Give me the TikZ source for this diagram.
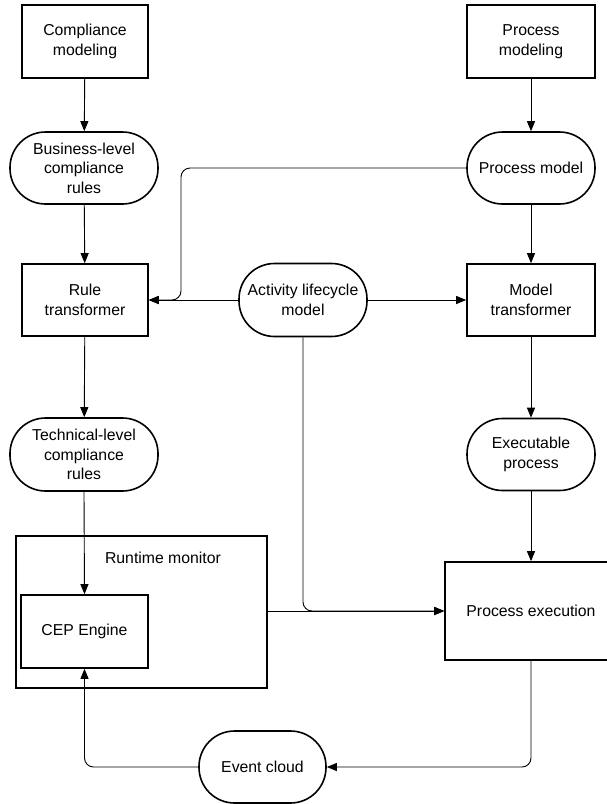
\documentclass[tikz,border=0pt]{standalone}
\usepackage{fontspec}
\setmainfont{Liberation Sans}
\usetikzlibrary{arrows.meta}
\begin{document}
\begin{tikzpicture}[x=1pt,y=-1pt,
  every node/.style={font=\fontsize{15.8}{19.5}\selectfont, align=center, inner sep=0pt},
  procbox/.style={draw, line width=1.6pt, rectangle},
  databox/.style={draw, line width=1.6pt, rectangle, rounded corners=35.5pt},
  flow/.style={line width=0.9pt, -{Triangle[length=10pt,width=8pt]}, rounded corners=9pt}
]
\useasboundingbox (0,0) rectangle (607,804);

% left column: compliance side
\node[procbox, minimum width=126pt, minimum height=73pt] (cm) at (85,41.5) {Compliance\\modeling};
\node[databox, minimum width=148pt, minimum height=72pt] (blr) at (84,168) {Business-level\\compliance\\rules};
\node[procbox, minimum width=126pt, minimum height=72pt] (rt) at (85,300) {Rule\\transformer};
\node[databox, minimum width=148pt, minimum height=73pt] (tlr) at (84,454.5) {Technical-level\\compliance\\rules};

% runtime monitor with embedded CEP engine
\node[procbox, minimum width=251pt, minimum height=152pt] (rtm) at (141.5,612) {};
\node (rtmlabel) at (163,558) {Runtime monitor};
\node[procbox, minimum width=127pt, minimum height=73pt] (cep) at (84.5,631.5) {CEP Engine};

% right column: process side
\node[procbox, minimum width=128pt, minimum height=73pt] (pm) at (531,41.5) {Process\\modeling};
\node[databox, minimum width=128pt, minimum height=72pt] (pmodel) at (531,168) {Process model};
\node[procbox, minimum width=128pt, minimum height=72pt] (mt) at (531,300) {Model\\transformer};
\node[databox, minimum width=128pt, minimum height=72pt] (exe) at (531,454.5) {Executable\\process};
\node[procbox, minimum width=172pt, minimum height=98pt] (pe) at (531,611) {Process execution};

% shared nodes
\node[databox, minimum width=128pt, minimum height=73pt] (alm) at (303,300) {Activity lifecycle\\model};
\node[databox, minimum width=127pt, minimum height=72pt] (ec) at (262.5,767) {Event cloud};

% connectors
\draw[flow] (cm) -- (blr);
\draw[flow] (blr) -- (rt);
\draw[flow] (rt) -- (tlr);
\draw[flow] (tlr.south) -- (cep.north);
\draw[flow] (pm) -- (pmodel);
\draw[flow] (pmodel) -- (mt);
\draw[flow] (mt) -- (exe);
\draw[flow] (exe.south) -- (exe.south |- pe.north);
\draw[flow] (pmodel.west) -- (181,168) -- (181,300) -- (rt.east);
\draw[flow] (alm.west) -- (rt.east);
\draw[flow] (alm.east) -- (mt.west);
\draw[flow] (alm.south) -- (alm.south |- pe.west) -- (pe.west);
\draw[flow] (rtm.east |- pe.west) -- (pe.west);
\draw[flow] (pe.south) -- (pe.south |- ec.east) -- (ec.east);
\draw[flow] (ec.west) -- (cep.south |- ec.west) -- (cep.south);
\end{tikzpicture}
\end{document}
